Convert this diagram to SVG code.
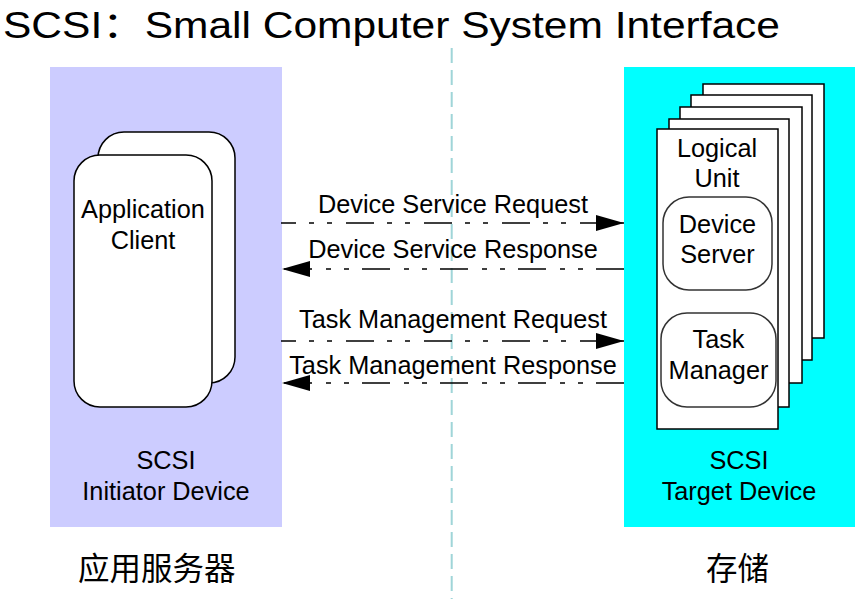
<svg xmlns="http://www.w3.org/2000/svg" width="865" height="599" viewBox="0 0 865 599">
<style>
  text { font-family: "Liberation Sans", Arial, "Noto Sans CJK SC", sans-serif; fill: #000; }
  .lbl { font-size: 25.3px; text-anchor: middle; }
  .cjk { font-family: "Noto Sans CJK SC", "Noto Sans CJK TC", sans-serif; font-size: 31.5px; }
  .card { fill: #fff; stroke: #000; stroke-width: 1.5; }
  .inner { fill: #fff; stroke: #333; stroke-width: 1.5; }
  .msg { fill: none; stroke: #000; stroke-width: 1.5; stroke-dasharray: 28 13 5 13 5 14; }
</style>
<defs>
  <marker id="ah" markerUnits="userSpaceOnUse" markerWidth="30" markerHeight="18" refX="28" refY="8" orient="auto">
    <path d="M0,0 L28,8 L0,16 z" fill="#000"/>
  </marker>
</defs>
<rect width="865" height="599" fill="#fff"/>
<text id="title" x="3" y="38" font-size="36" textLength="777" lengthAdjust="spacingAndGlyphs">SCSI：Small Computer System Interface</text>

<g id="initiator">
  <rect x="50" y="67" width="232" height="460" fill="#CCCCFF"/>
  <text class="lbl" x="166" y="469">SCSI</text>
  <text class="lbl" x="166" y="500">Initiator Device</text>
</g>
<g id="target">
  <rect x="624" y="67" width="231" height="460" fill="#00FFFF"/>
  <text class="lbl" x="739" y="469">SCSI</text>
  <text class="lbl" x="739" y="500">Target Device</text>
</g>

<line x1="451.7" y1="48" x2="451.7" y2="599" stroke="#9FD5D8" stroke-width="2" stroke-dasharray="15 7"/>

<g id="app-client">
  <rect class="card" x="98" y="132" width="137" height="251" rx="26" ry="26"/>
  <rect class="card" x="74" y="155" width="138" height="252" rx="26" ry="26"/>
  <text class="lbl" x="143" y="218">Application</text>
  <text class="lbl" x="143" y="249">Client</text>
</g>

<g id="logical-unit">
  <rect class="card" x="703" y="84" width="121" height="254"/>
  <rect class="card" x="691" y="95" width="121" height="265"/>
  <rect class="card" x="680" y="107" width="122" height="276"/>
  <rect class="card" x="669" y="119" width="120" height="288"/>
  <rect class="card" x="657" y="129" width="121" height="300"/>
  <text class="lbl" x="717" y="157">Logical</text>
  <text class="lbl" x="717" y="187">Unit</text>
</g>
<g id="device-server">
  <rect class="inner" x="663" y="197" width="109" height="93" rx="26" ry="26"/>
  <text class="lbl" x="717.5" y="233">Device</text>
  <text class="lbl" x="717.5" y="263">Server</text>
</g>
<g id="task-manager">
  <rect class="inner" x="661" y="313" width="115" height="94" rx="26" ry="26"/>
  <text class="lbl" x="718.5" y="348">Task</text>
  <text class="lbl" x="718.5" y="379">Manager</text>
</g>

<g id="connectors">
  <path class="msg" d="M281,223 H624" stroke-dashoffset="13" marker-end="url(#ah)"/>
  <path class="msg" d="M624,269 H282" marker-end="url(#ah)"/>
  <path class="msg" d="M281,341 H624" stroke-dashoffset="13" marker-end="url(#ah)"/>
  <path class="msg" d="M624,383 H282" marker-end="url(#ah)"/>
  <text class="lbl" x="453" y="213">Device Service Request</text>
  <text class="lbl" x="453" y="258">Device Service Response</text>
  <text class="lbl" x="453" y="328">Task Management Request</text>
  <text class="lbl" x="453" y="374">Task Management Response</text>
</g>

<text class="cjk" x="78" y="580">应用服务器</text>
<text class="cjk" x="706" y="580">存储</text>
</svg>
